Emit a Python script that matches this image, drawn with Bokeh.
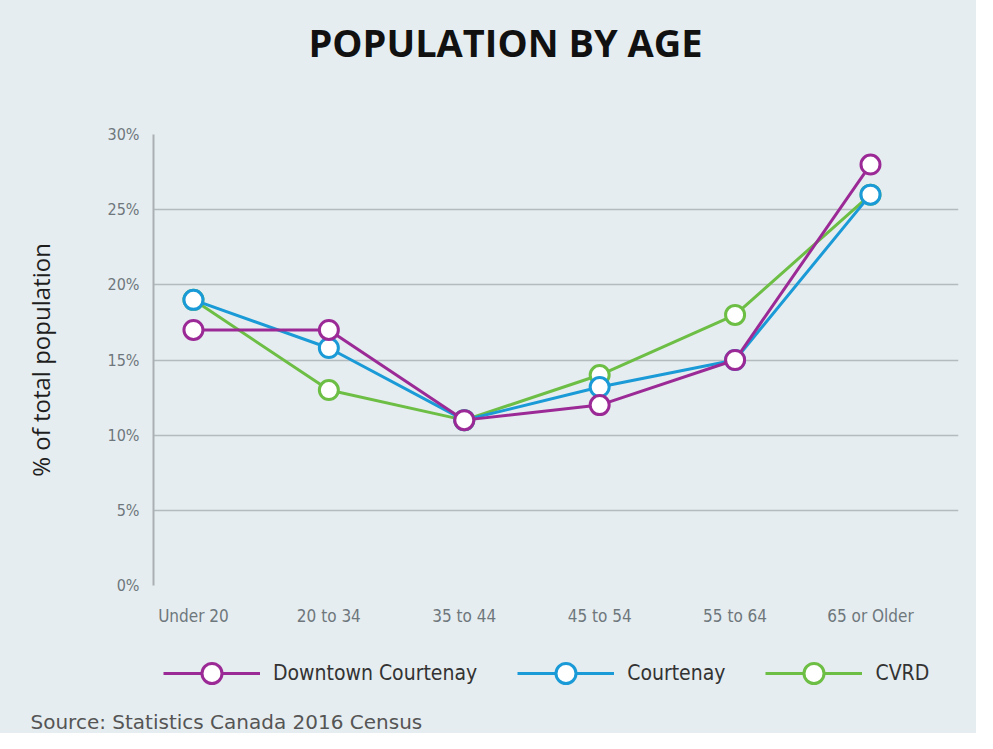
from bokeh.plotting import figure
from bokeh.layouts import column
from bokeh.models import Label, Legend, LegendItem, FixedTicker, Range1d
from bokeh.embed import file_html
from bokeh.resources import INLINE

categories = ["Under 20", "20 to 34", "35 to 44", "45 to 54", "55 to 64", "65 or Older"]
downtown = [17, 17, 11, 12, 15, 28]
courtenay = [19, 15.8, 11, 13.2, 15, 26]
cvrd = [19, 13, 11, 14, 18, 26]
y_ticks = [0, 5, 10, 15, 20, 25, 30]
y_tick_labels = ["0%", "5%", "10%", "15%", "20%", "25%", "30%"]

series_names = ["Downtown Courtenay", "Courtenay", "CVRD"]
series_colors = ["#9B2A96", "#1A9AD6", "#6DBE45"]

BG = "#E6EDF0"
COND = "DejaVu Sans Condensed"
W = 976
xs = list(range(len(categories)))
data = [downtown, courtenay, cvrd]


def blank(height):
    f = figure(width=W, height=height, output_backend="svg", toolbar_location=None,
               x_axis_type=None, y_axis_type=None,
               x_range=Range1d(0, 1), y_range=Range1d(0, 1),
               min_border=0, background_fill_color=BG, border_fill_color=BG,
               outline_line_color=None, frame_align=False)
    f.grid.visible = False
    return f


# ---- title strip
top = blank(100)
top.add_layout(Label(x=505, y=59, x_units="screen", y_units="screen",
                     text="POPULATION BY AGE", text_font="Open Sans", text_font_style="bold",
                     text_font_size="38px", text_color="#111111",
                     text_align="center", text_baseline="middle"))

# ---- main chart
p = figure(
    frame_width=805, frame_height=451,
    output_backend="svg", toolbar_location=None,
    x_range=Range1d(-0.295, 5.65), y_range=Range1d(0, 30),
    min_border_left=153, min_border_right=18, min_border_top=34, min_border_bottom=42,
    background_fill_color=BG, border_fill_color=BG, outline_line_color=None,
    frame_align=False,
)

p.yaxis.ticker = FixedTicker(ticks=y_ticks)
p.yaxis.major_label_overrides = {t: l for t, l in zip(y_ticks, y_tick_labels)}
p.yaxis.major_tick_line_color = None
p.yaxis.minor_tick_line_color = None
p.yaxis.major_tick_out = 0
p.yaxis.major_tick_in = 0
p.yaxis.axis_line_color = "#A9B0B4"
p.yaxis.axis_line_width = 2
p.yaxis.major_label_text_font = COND
p.yaxis.major_label_text_font_size = "16px"
p.yaxis.major_label_text_color = "#6E777C"
p.yaxis.major_label_standoff = 14
p.yaxis.axis_label = "% of total population"
p.yaxis.axis_label_text_font = "Open Sans"
p.yaxis.axis_label_text_font_size = "24px"
p.yaxis.axis_label_text_font_style = "normal"
p.yaxis.axis_label_text_color = "#1E1E1E"
p.yaxis.axis_label_standoff = 48

p.xaxis.ticker = FixedTicker(ticks=xs)
p.xaxis.major_label_overrides = {i: c for i, c in enumerate(categories)}
p.xaxis.major_tick_line_color = None
p.xaxis.minor_tick_line_color = None
p.xaxis.major_tick_out = 0
p.xaxis.major_tick_in = 0
p.xaxis.axis_line_color = None
p.xaxis.major_label_text_font = COND
p.xaxis.major_label_text_font_size = "17px"
p.xaxis.major_label_text_color = "#6E777C"
p.xaxis.major_label_standoff = 20

p.xgrid.grid_line_color = None
p.ygrid.grid_line_color = "#B4BBBF"
p.ygrid.grid_line_width = 1.5

for idx in [2, 1, 0]:
    vals = data[idx]
    col = series_colors[idx]
    p.line(xs, vals, line_color=col, line_width=3)
    p.scatter(xs, vals, size=19, fill_color="white", line_color=col, line_width=3)

# ---- legend + source strip (renderers hidden; they only feed the legend glyphs)
bottom = blank(105)
items = []
for idx in range(3):
    col = series_colors[idx]
    ln = bottom.line(xs, data[idx], line_color=col, line_width=3, visible=False)
    sc = bottom.scatter(xs, data[idx], size=19, fill_color="white", line_color=col,
                        line_width=3, visible=False)
    items.append(LegendItem(label=series_names[idx], renderers=[ln, sc]))

legend = Legend(
    items=items,
    orientation="horizontal",
    location=(163, 35),
    glyph_width=97, glyph_height=50,
    label_standoff=13, spacing=40, padding=0, margin=0,
    background_fill_alpha=0, border_line_alpha=0,
    label_text_font=COND, label_text_font_size="21px",
    label_text_color="#333333", label_text_baseline="middle",
    click_policy="none",
)
bottom.add_layout(legend, "center")

bottom.add_layout(Label(x=30, y=12, x_units="screen", y_units="screen",
                        text="Source: Statistics Canada 2016 Census", text_font="DejaVu Sans",
                        text_font_size="20px", text_color="#555555",
                        text_align="left", text_baseline="middle"))

layout = column(top, p, bottom, spacing=0, styles={"background-color": BG})

open("out.html", "w").write(file_html(layout, INLINE))
